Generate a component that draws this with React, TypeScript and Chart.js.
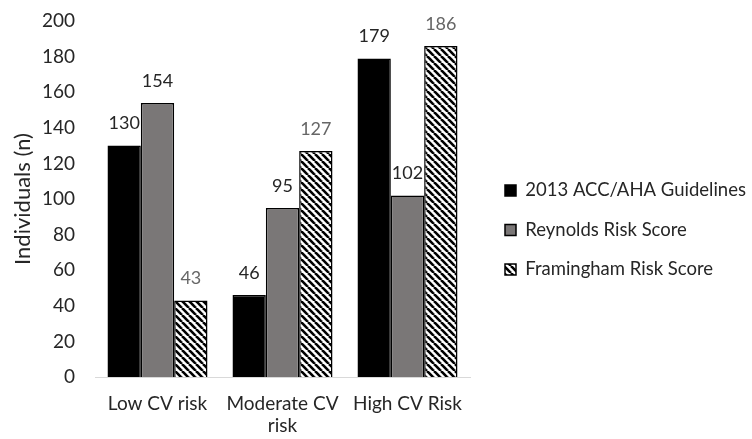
import React, { useEffect, useRef } from "react";
import { Chart, registerables } from "chart.js";

Chart.register(...registerables);

const categories: (string | string[])[] = ["Low CV risk", ["Moderate CV", "risk"], "High CV Risk"];
const seriesNames = ["2013 ACC/AHA Guidelines", "Reynolds Risk Score", "Framingham Risk Score"];
const accAhaValues = [130, 46, 179];
const reynoldsValues = [154, 95, 102];
const framinghamValues = [43, 127, 186];
const yMin = 0;
const yMax = 200;
const yStep = 20;
const yTitle = "Individuals (n)";

const FONT = "Lato";
const TEXT = "#262626";
const labelColors = ["#262626", "#262626", "#666666"];
const LEGEND_WIDTH = 282;
const LEGEND_SHIFT = 14;

function makeHatch(): CanvasPattern | string {
  const s = 7;
  const c = document.createElement("canvas");
  c.width = s;
  c.height = s;
  const g = c.getContext("2d");
  if (!g) return "#888";
  g.fillStyle = "#ffffff";
  g.fillRect(0, 0, s, s);
  g.strokeStyle = "#000000";
  g.lineWidth = 2.6;
  for (let k = -1; k <= 1; k++) {
    g.beginPath();
    g.moveTo(k * s, 0);
    g.lineTo(k * s + s, s);
    g.stroke();
  }
  return g.createPattern(c, "repeat") || "#888";
}

const valueLabels = {
  id: "valueLabels",
  afterDatasetsDraw(chart: any) {
    const ctx = chart.ctx;
    ctx.save();
    ctx.font = `18px ${FONT}`;
    ctx.textAlign = "center";
    ctx.textBaseline = "middle";
    chart.data.datasets.forEach((ds: any, i: number) => {
      const meta = chart.getDatasetMeta(i);
      ctx.fillStyle = labelColors[i];
      meta.data.forEach((bar: any, j: number) => {
        ctx.fillText(String(ds.data[j]), bar.x, bar.y - 22);
      });
    });
    ctx.restore();
  },
};

const legendLayout = {
  id: "legendLayout",
  afterInit(chart: any) {
    const l = chart.legend;
    if (l && !l.__patched) {
      const orig = l.fit.bind(l);
      l.fit = () => {
        orig();
        l.width = LEGEND_WIDTH;
      };
      l.__patched = true;
    }
  },
  afterLayout(chart: any) {
    const l = chart.legend;
    if (l) {
      l.left += LEGEND_SHIFT;
      l.right += LEGEND_SHIFT;
    }
  },
};

export default function App() {
  const ref = useRef<HTMLCanvasElement | null>(null);
  useEffect(() => {
    document.body.style.margin = "0";
    if (!ref.current) return;
    const hatch = makeHatch();
    const chart = new Chart(ref.current, {
      type: "bar",
      data: {
        labels: categories,
        datasets: [
          {
            label: seriesNames[0],
            data: accAhaValues,
            backgroundColor: "#000000",
            borderColor: "#000000",
            borderWidth: 1.5,
            categoryPercentage: 0.8,
            barPercentage: 1.0,
          },
          {
            label: seriesNames[1],
            data: reynoldsValues,
            backgroundColor: "#7a7777",
            borderColor: "#000000",
            borderWidth: 1.5,
            categoryPercentage: 0.8,
            barPercentage: 1.0,
          },
          {
            label: seriesNames[2],
            data: framinghamValues,
            backgroundColor: hatch as any,
            borderColor: "#000000",
            borderWidth: 1.5,
            categoryPercentage: 0.8,
            barPercentage: 1.0,
          },
        ],
      },
      options: {
        animation: false,
        responsive: true,
        maintainAspectRatio: false,
        layout: { padding: { top: 21, right: 0, bottom: 0, left: 8 } },
        plugins: {
          legend: {
            position: "right",
            maxWidth: 320,
            labels: {
              font: { family: FONT, size: 18.5 },
              color: TEXT,
              boxWidth: 11,
              boxHeight: 11,
              padding: 21,
            },
          },
          tooltip: { enabled: false },
        },
        scales: {
          x: {
            grid: { display: false, drawTicks: false },
            border: { display: true, color: "#d9d9d9", width: 1 },
            ticks: {
              font: { family: FONT, size: 19, lineHeight: 1.15 },
              color: TEXT,
              padding: 16,
              maxRotation: 0,
              autoSkip: false,
            },
            afterFit(scale: any) {
              scale.height = 62;
            },
          },
          y: {
            min: yMin,
            max: yMax,
            grid: { display: false, drawTicks: false },
            border: { display: false },
            ticks: {
              stepSize: yStep,
              font: { family: FONT, size: 19 },
              color: TEXT,
              padding: 20,
            },
            title: {
              display: true,
              text: yTitle,
              font: { family: FONT, size: 22 },
              color: TEXT,
              padding: { top: 2, bottom: 4 },
            },
            afterFit(scale: any) {
              scale.width = 87;
              scale.paddingTop = 10;
              scale.paddingBottom = 10;
            },
          },
        },
      },
      plugins: [valueLabels, legendLayout],
    });
    return () => chart.destroy();
  }, []);
  return (
    <div style={{ position: "relative", width: 752, height: 439 }}>
      <canvas ref={ref} />
    </div>
  );
}
